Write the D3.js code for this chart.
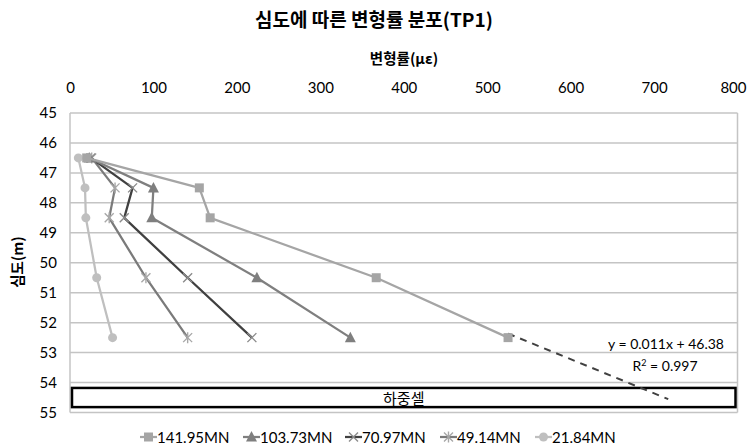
<!DOCTYPE html>
<html>
<head>
<meta charset="utf-8">
<script src="https://cdn.jsdelivr.net/npm/d3@7"></script>
<style>
  html, body { margin: 0; padding: 0; background: #fff; }
  svg text { font-family: Lato, "Noto Sans CJK KR", sans-serif; fill: #000; }
  .kr { font-family: "Noto Sans CJK KR", sans-serif; }
</style>
</head>
<body>
<svg id="chart" width="748" height="448"></svg>
<script>
// Depths (m) at which strain was measured
const depths = [46.5, 47.5, 48.5, 50.5, 52.5];

// Strain (με) per load step
const load141 = [20, 155, 168, 367, 525];
const load103 = [23, 100, 98, 224, 336];
const load70 = [25, 75, 65, 141, 218];
const load49 = [26, 54, 47, 91, 141];
const load21 = [10, 18, 19, 32, 51];

const seriesNames = ["141.95MN", "103.73MN", "70.97MN", "49.14MN", "21.84MN"];

// Axis ticks
const strainTicks = [0, 100, 200, 300, 400, 500, 600, 700, 800];
const depthTicks = [45, 46, 47, 48, 49, 50, 51, 52, 53, 54, 55];

// Linear trend of the 141.95MN profile, extended toward the load cell
const trendSlope = 0.0114;
const trendIntercept = 46.38;
const trendR2 = 0.997;
const trendEndStrain = 717;

// Load cell band (depth range)
const loadCellTop = 54.18;
const loadCellBottom = 54.82;

const svg = d3.select("#chart");
const x = d3.scaleLinear().domain([0, 800]).range([70, 737.5]);
const y = d3.scaleLinear().domain([45, 55]).range([113, 412.5]);

// Title
svg.append("text").attr("class", "kr")
  .attr("x", 374).attr("y", 27).attr("text-anchor", "middle")
  .style("font-size", "19px").style("font-weight", "bold")
  .text("심도에 따른 변형률 분포(TP1)");

// Axis titles
svg.append("text").attr("class", "kr")
  .attr("x", 404).attr("y", 64).attr("text-anchor", "middle")
  .style("font-size", "14.5px").style("font-weight", "bold")
  .text("변형률(με)");
svg.append("text").attr("class", "kr")
  .attr("transform", "translate(23,262) rotate(-90)")
  .attr("text-anchor", "middle")
  .style("font-size", "14.5px").style("font-weight", "bold")
  .text("심도(m)");

// Horizontal gridlines
svg.append("g").selectAll("line").data(depthTicks).join("line")
  .attr("x1", x(0)).attr("x2", x(800))
  .attr("y1", d => y(d)).attr("y2", d => y(d))
  .attr("stroke", "#c4c4c4").attr("stroke-width", 1.5);

// Plot frame sides
[0, 800].forEach(v => {
  svg.append("line")
    .attr("x1", x(v)).attr("x2", x(v))
    .attr("y1", y(45)).attr("y2", y(55))
    .attr("stroke", "#c4c4c4").attr("stroke-width", 1.5);
});

// Top strain axis labels
const xAxis = d3.axisTop(x).tickValues(strainTicks).tickSize(0).tickPadding(0);
const gx = svg.append("g").attr("transform", "translate(0,93)").call(xAxis);
gx.select(".domain").remove();
gx.selectAll("text").style("font-family", "Lato, sans-serif").style("font-size", "15px").attr("fill", "#000");
// keep the last label inside the canvas
gx.selectAll(".tick").filter(d => d === 800).select("text")
  .attr("text-anchor", "end").attr("x", 746 - x(800));

// Left depth axis labels
const yAxis = d3.axisLeft(y).tickValues(depthTicks).tickSize(0).tickPadding(0);
const gy = svg.append("g").attr("transform", "translate(57,0)").call(yAxis);
gy.select(".domain").remove();
gy.selectAll("text").style("font-family", "Lato, sans-serif").style("font-size", "15px").attr("fill", "#000");

// Load cell
svg.append("rect")
  .attr("x", x(0) + 2).attr("y", y(loadCellTop))
  .attr("width", x(800) - x(0) - 4)
  .attr("height", y(loadCellBottom) - y(loadCellTop))
  .attr("fill", "#fff").attr("stroke", "#000").attr("stroke-width", 2.5);
svg.append("text").attr("class", "kr")
  .attr("x", (x(0) + x(800)) / 2)
  .attr("y", (y(loadCellTop) + y(loadCellBottom)) / 2 + 6)
  .attr("text-anchor", "middle")
  .style("font-size", "15px").attr("fill", "#222")
  .text("하중셀");

// Trend line (dashed) from the deepest 141.95MN reading onward
const trendStart = load141[load141.length - 1];
svg.append("line")
  .attr("x1", x(trendStart)).attr("y1", y(trendSlope * trendStart + trendIntercept))
  .attr("x2", x(trendEndStrain)).attr("y2", y(trendSlope * trendEndStrain + trendIntercept))
  .attr("stroke", "#404040").attr("stroke-width", 2)
  .attr("stroke-dasharray", "7,6");

svg.append("text")
  .attr("x", 666).attr("y", 349).attr("text-anchor", "middle")
  .style("font-size", "14px")
  .text(`y = ${trendSlope.toFixed(3)}x + ${trendIntercept.toFixed(2)}`);
const r2 = svg.append("text")
  .attr("x", 665).attr("y", 371).attr("text-anchor", "middle")
  .style("font-size", "14px");
r2.append("tspan").text("R");
r2.append("tspan").attr("dy", -5).style("font-size", "9px").text("2");
r2.append("tspan").attr("dy", 5).text(` = ${trendR2.toFixed(3)}`);

// Series definitions
const series = [
  { name: seriesNames[0], values: load141, line: "#a5a5a5", mark: "#a5a5a5", shape: "square" },
  { name: seriesNames[1], values: load103, line: "#7f7f7f", mark: "#7f7f7f", shape: "triangle" },
  { name: seriesNames[2], values: load70, line: "#404040", mark: "#8c8c8c", shape: "x" },
  { name: seriesNames[3], values: load49, line: "#7a7a7a", mark: "#a8a8a8", shape: "star" },
  { name: seriesNames[4], values: load21, line: "#bfbfbf", mark: "#bfbfbf", shape: "circle" }
];

function drawMarker(g, shape, color, cx, cy) {
  if (shape === "square") {
    g.append("rect").attr("x", cx - 4.5).attr("y", cy - 4.5)
      .attr("width", 9).attr("height", 9).attr("fill", color);
  } else if (shape === "triangle") {
    g.append("path").attr("d", `M${cx},${cy - 6}L${cx + 5.5},${cy + 4.5}L${cx - 5.5},${cy + 4.5}Z`)
      .attr("fill", color);
  } else if (shape === "circle") {
    g.append("circle").attr("cx", cx).attr("cy", cy).attr("r", 4.5).attr("fill", color);
  } else {
    const r = 4.5;
    g.append("path")
      .attr("d", `M${cx - r},${cy - r}L${cx + r},${cy + r}M${cx - r},${cy + r}L${cx + r},${cy - r}` +
        (shape === "star" ? `M${cx},${cy - r - 1}L${cx},${cy + r + 1}` : ""))
      .attr("stroke", color).attr("stroke-width", 1.4).attr("fill", "none");
  }
}

const line = d3.line().x(d => x(d[0])).y(d => y(d[1]));
const plot = svg.append("g");
series.slice().reverse().forEach(s => {
  const pts = s.values.map((v, i) => [v, depths[i]]);
  plot.append("path").datum(pts).attr("d", line)
    .attr("fill", "none").attr("stroke", s.line).attr("stroke-width", 2.25)
    .attr("stroke-linejoin", "round");
  const mg = plot.append("g");
  pts.forEach(p => drawMarker(mg, s.shape, s.mark, x(p[0]), y(p[1])));
});

// Legend
const legendX = [140, 243, 345, 440, 535];
const legend = svg.append("g");
series.forEach((s, i) => {
  const lx = legendX[i], ly = 437;
  legend.append("line").attr("x1", lx).attr("x2", lx + 17)
    .attr("y1", ly).attr("y2", ly).attr("stroke", s.line).attr("stroke-width", 2.25);
  drawMarker(legend, s.shape, s.mark, lx + 8.5, ly);
  legend.append("text").attr("x", lx + 17).attr("y", ly + 5.5)
    .style("font-size", "15px").attr("fill", "#333").text(s.name);
});
</script>
</body>
</html>
